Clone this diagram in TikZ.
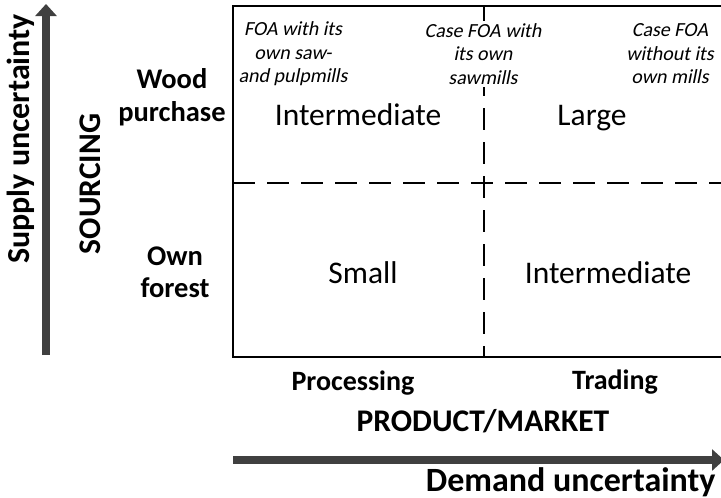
\documentclass[tikz,border=0pt]{standalone}
\usepackage{fontspec}
\setmainfont{Carlito}
\newfontfamily\caseslant{Carlito}[FakeSlant=0.2]
\usetikzlibrary{arrows.meta}

\tikzset{
  axisarrow/.style={line width=8pt, draw=black!75, -{Triangle[width=21pt,length=12pt]}},
  splitline/.style={line width=2pt, dash pattern=on 22pt off 12pt},
  cellsize/.style={font=\fontsize{31.5}{36}\selectfont, anchor=base},
  caselabel/.style={font=\caseslant\fontsize{20}{23.5}\selectfont, align=center, fill=white, inner sep=2pt},
  axislabel/.style={font=\bfseries\fontsize{#1}{32}\selectfont, align=center, anchor=base},
  axislabel/.default=28,
}

\begin{document}
\begin{tikzpicture}[x=1pt,y=-1pt]
\useasboundingbox (0,0) rectangle (721,498);
\clip (0,0) rectangle (721,498);

% Frame and split lines
\draw[line width=2.5pt] (745,6) -- (233,6) -- (233,357) -- (745,357);
\draw[splitline] (233,183) -- (745,183);
\draw[splitline] (484,6) -- (484,357);

% Axes
\coordinate (supplylow) at (46,355);
\coordinate (supplyhigh) at (46,4);
\coordinate (demandlow) at (233,460);
\coordinate (demandhigh) at (724,460);
\draw[axisarrow] (supplylow) -- (supplyhigh);
\draw[axisarrow] (demandlow) -- (demandhigh);

% Axis labels
\node[axislabel=32, rotate=90] (supply) at (29,139) {Supply uncertainty};
\node[axislabel=31.5, rotate=90] (sourcing) at (100,184) {SOURCING};
\node[axislabel=28.5, font=\bfseries\fontsize{28.5}{33}\selectfont, anchor=center] (purchase) at (172,97) {Wood\\purchase};
\node[axislabel=28.5, font=\bfseries\fontsize{28.5}{32}\selectfont, anchor=center] (forest) at (175,272) {Own\\forest};
\node[axislabel] (processing) at (353,390) {Processing};
\node[axislabel] (trading) at (615,389) {Trading};
\node[axislabel=31.5] (market) at (483,431) {PRODUCT/MARKET};
\node[axislabel=34, anchor=base east] (demand) at (719,491) {Demand uncertainty};

% Cases
\node[caselabel] (casepulp) at (293,54) {FOA with its\\own saw-\\and pulpmills};
\node[caselabel] (casesaw) at (483,54) {Case FOA with\\its own\\sawmills};
\node[caselabel] (casenone) at (670,54) {Case FOA\\without its\\own mills};

% Cells
\node[cellsize] (upleft) at (358,125) {Intermediate};
\node[cellsize] (upright) at (592,125) {Large};
\node[cellsize] (lowleft) at (363,283) {Small};
\node[cellsize] (lowright) at (608,283) {Intermediate};

\end{tikzpicture}
\end{document}
